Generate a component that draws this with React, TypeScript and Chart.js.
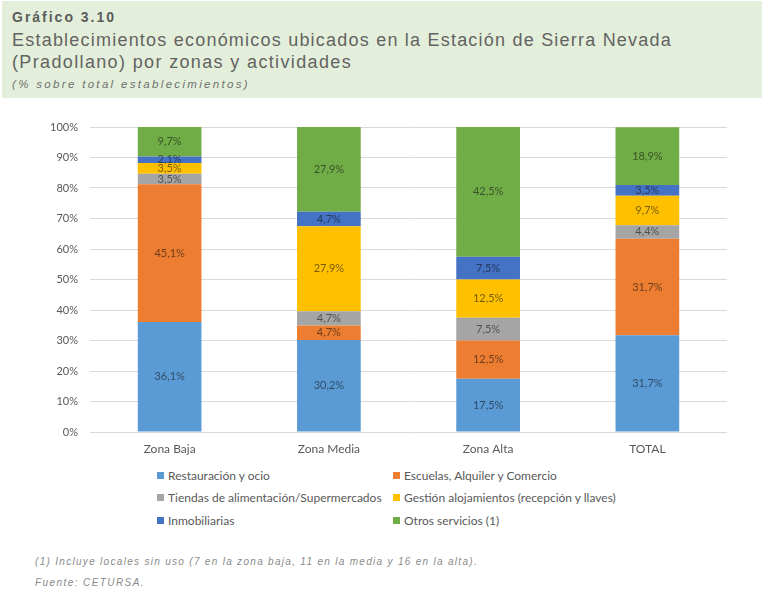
import React, { useEffect, useLayoutEffect, useRef } from "react";
import { Chart, registerables } from "chart.js";

Chart.register(...registerables);

const categories = ["Zona Baja", "Zona Media", "Zona Alta", "TOTAL"];
const seriesNames = [
  "Restauración y ocio",
  "Escuelas, Alquiler y Comercio",
  "Tiendas de alimentación/Supermercados",
  "Gestión alojamientos (recepción y llaves)",
  "Inmobiliarias",
  "Otros servicios (1)",
];
const restauracion = [36.1, 30.2, 17.5, 31.7];
const escuelas = [45.1, 4.7, 12.5, 31.7];
const tiendas = [3.5, 4.7, 7.5, 4.4];
const gestion = [3.5, 27.9, 12.5, 9.7];
const inmobiliarias = [2.1, 4.7, 7.5, 3.5];
const otros = [9.7, 27.9, 42.5, 18.9];
const seriesValues = [restauracion, escuelas, tiendas, gestion, inmobiliarias, otros];
const seriesColors = ["#5B9BD5", "#ED7D31", "#A5A5A5", "#FFC000", "#4472C4", "#70AD47"];
const yTickStep = 10;
const yMax = 100;

const CHART_FONT = "Lato, 'Open Sans', sans-serif";
const HEAD_FONT = "'Liberation Sans', Arial, sans-serif";

const fmt = (v: number) => v.toFixed(1).replace(".", ",") + "%";

const labelPlugin = {
  id: "segLabels",
  afterDatasetsDraw(chart: any) {
    const ctx = chart.ctx;
    ctx.save();
    ctx.font = `11px ${CHART_FONT}`;
    ctx.textAlign = "center";
    ctx.textBaseline = "middle";
    ctx.fillStyle = "rgba(15,15,15,0.58)";
    chart.data.datasets.forEach((ds: any, i: number) => {
      const meta = chart.getDatasetMeta(i);
      meta.data.forEach((el: any, j: number) => {
        const v = ds.data[j];
        const y = (el.y + el.base) / 2;
        ctx.fillText(fmt(v), el.x, y);
      });
    });
    ctx.restore();
  },
};

// Text element whose letter spacing is adjusted so that it spans a given width
function FitText(props: { text: string; width: number; style: any }) {
  const ref = useRef<HTMLDivElement | null>(null);
  useLayoutEffect(() => {
    const el = ref.current;
    if (!el) return;
    el.style.letterSpacing = "0px";
    const w = el.getBoundingClientRect().width;
    const n = props.text.length;
    const ls = (props.width - w) / n;
    el.style.letterSpacing = ls + "px";
  }, [props.text, props.width]);
  return (
    <div ref={ref} style={{ position: "absolute", whiteSpace: "nowrap", display: "inline-block", ...props.style }}>
      {props.text}
    </div>
  );
}

export default function App() {
  const ref = useRef<HTMLCanvasElement | null>(null);

  useEffect(() => {
    if (!ref.current) return;
    const chart = new Chart(ref.current, {
      type: "bar",
      data: {
        labels: categories,
        datasets: seriesNames.map((name, i) => ({
          label: name,
          data: seriesValues[i],
          backgroundColor: seriesColors[i],
          borderWidth: 0,
          barPercentage: 0.4,
          categoryPercentage: 1,
        })),
      },
      options: {
        animation: false,
        responsive: false,
        maintainAspectRatio: false,
        layout: { padding: { top: 27, right: 37, left: 0, bottom: 0 } },
        plugins: {
          legend: { display: false },
          tooltip: { enabled: false },
          title: { display: false },
        },
        scales: {
          x: {
            stacked: true,
            grid: { display: false, drawTicks: false },
            border: { display: false },
            ticks: {
              color: "#595959",
              font: { family: CHART_FONT, size: 12 },
              padding: 10,
            },
            afterFit: (s: any) => {
              s.height = 28;
            },
          },
          y: {
            stacked: true,
            min: 0,
            max: yMax,
            grid: { color: "#d9d9d9", lineWidth: 1, drawTicks: false },
            border: { display: false },
            ticks: {
              stepSize: yTickStep,
              color: "#595959",
              font: { family: CHART_FONT, size: 11 },
              padding: 12,
              callback: (v: any) => v + "%",
            },
            afterFit: (s: any) => {
              s.width = 90;
            },
          },
        },
      },
      plugins: [labelPlugin],
    } as any);
    return () => chart.destroy();
  }, []);

  const legendPos = [
    { left: 157, top: 475 },
    { left: 393, top: 475 },
    { left: 157, top: 497 },
    { left: 393, top: 497 },
    { left: 157, top: 520 },
    { left: 393, top: 520 },
  ];

  const titleLine1 = "Establecimientos económicos ubicados en la Estación de Sierra Nevada";
  const titleLine2 = "(Pradollano) por zonas y actividades";
  const titleStyle = { fontFamily: HEAD_FONT, fontSize: 18, lineHeight: "22px", height: 22, color: "#636363" };

  return (
    <div style={{ position: "absolute", left: 0, top: 0, width: 764, height: 591, background: "#fff", overflow: "hidden" }}>
      <div style={{ position: "absolute", left: 2, top: 1, width: 760, height: 97, background: "#e3efda" }} />
      <FitText
        text="Gráfico 3.10"
        width={104}
        style={{ left: 12, top: 9, fontFamily: HEAD_FONT, fontSize: 14, fontWeight: "bold", lineHeight: "16px", color: "#5c5c5c" }}
      />
      <FitText text={titleLine1} width={660} style={{ left: 12, top: 29, ...titleStyle }} />
      <FitText text={titleLine2} width={340} style={{ left: 12, top: 51, ...titleStyle }} />
      <FitText
        text="(% sobre total establecimientos)"
        width={238}
        style={{ left: 12, top: 77, fontFamily: HEAD_FONT, fontSize: 11.5, fontStyle: "italic", lineHeight: "14px", color: "#707070" }}
      />

      <canvas ref={ref} width={764} height={360} style={{ position: "absolute", left: 0, top: 100, width: 764, height: 360 }} />

      {seriesNames.map((name, i) => (
        <div
          key={name}
          style={{
            position: "absolute",
            left: legendPos[i].left,
            top: legendPos[i].top - 8,
            height: 16,
            display: "flex",
            alignItems: "center",
            fontFamily: CHART_FONT,
            fontSize: 12,
            color: "#595959",
            whiteSpace: "nowrap",
          }}
        >
          <span style={{ display: "inline-block", width: 7, height: 7, background: seriesColors[i], marginRight: 4 }} />
          {name}
        </div>
      ))}

      <FitText
        text="(1) Incluye locales sin uso (7 en la zona baja, 11 en la media y 16 en la alta)."
        width={443}
        style={{ left: 35, top: 555, fontFamily: HEAD_FONT, fontSize: 10, fontStyle: "italic", lineHeight: "14px", color: "#8a8a8a" }}
      />
      <FitText
        text="Fuente: CETURSA."
        width={110}
        style={{ left: 35, top: 576, fontFamily: HEAD_FONT, fontSize: 10, fontStyle: "italic", lineHeight: "14px", color: "#8a8a8a" }}
      />
    </div>
  );
}
